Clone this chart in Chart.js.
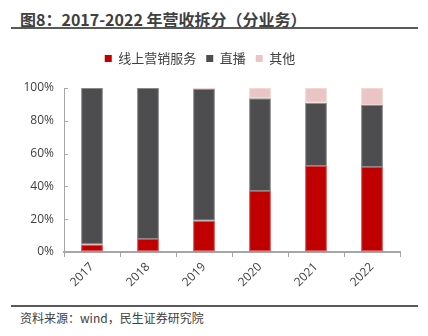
<!DOCTYPE html>
<html>
<head>
<meta charset="utf-8">
<script src="https://cdn.jsdelivr.net/npm/chart.js@4/dist/chart.umd.min.js"></script>
<style>
  html, body { margin: 0; padding: 0; background: #fff; }
  #wrap { position: relative; width: 428px; height: 336px; overflow: hidden; }
  #title {
    position: absolute; left: 20px; top: 7px;
    font: bold 16px "Noto Sans CJK SC", "Open Sans", sans-serif;
    color: #404040; white-space: nowrap;
  }
  .rule { position: absolute; left: 11px; width: 407px; height: 2px; background: #595959; }
  #source {
    position: absolute; left: 20px; top: 309px;
    font: 12px "Noto Sans CJK SC", sans-serif; color: #404040; white-space: nowrap;
  }
  #chartBox { position: absolute; left: 0; top: 28px; width: 428px; height: 274px; }
</style>
</head>
<body>
<div id="wrap">
  <div id="title">图8：2017-2022 年营收拆分（分业务）</div>
  <div class="rule" style="top:27px"></div>
  <div id="chartBox"><canvas id="c"></canvas></div>
  <div class="rule" style="top:305px"></div>
  <div id="source">资料来源：wind，民生证券研究院</div>
</div>
<script>
// --- data (share of revenue, %) ---
const years = ['2017', '2018', '2019', '2020', '2021', '2022'];
const onlineMarketing = [4.5, 8.0, 19.0, 37.2, 52.4, 51.8];
const liveStreaming = [95.5, 92.0, 80.4, 56.5, 38.6, 37.8];
const others = [0.0, 0.0, 0.6, 6.3, 9.0, 10.4];
const yTicks = [0, 20, 40, 60, 80, 100];

const COLORS = ['#C00000', '#4D4D4F', '#EBC4C4'];
const EDGES = ['#D44A4A', '#8A8A8A', '#F2D6D6'];

// small inward tick marks on the y axis
const yTickMarks = {
  id: 'yTickMarks',
  afterDraw(chart) {
    const y = chart.scales.y, ctx = chart.ctx;
    ctx.save();
    ctx.strokeStyle = '#A6A6A6';
    ctx.lineWidth = 1;
    yTicks.forEach(v => {
      const py = Math.round(y.getPixelForValue(v)) + 0.5;
      ctx.beginPath();
      ctx.moveTo(y.right, py);
      ctx.lineTo(y.right + 4, py);
      ctx.stroke();
    });
    ctx.restore();
  }
};

// extra gap under the legend without spreading the items apart
const legendGap = {
  id: 'legendGap',
  beforeLayout(chart) {
    const lg = chart.legend;
    if (lg && !lg._gapPatched) {
      const fit = lg.fit.bind(lg);
      lg.fit = function () { fit(); this.height += 13; };
      lg._gapPatched = true;
    }
  }
};

new Chart(document.getElementById('c'), {
  type: 'bar',
  data: {
    labels: years,
    datasets: [
      { label: '线上营销服务', data: onlineMarketing },
      { label: '直播', data: liveStreaming },
      { label: '其他', data: others }
    ].map((d, i) => Object.assign(d, {
      backgroundColor: COLORS[i],
      borderColor: EDGES[i],
      borderWidth: 1,
      borderSkipped: false,
      categoryPercentage: 0.78,
      barPercentage: 0.5
    }))
  },
  options: {
    responsive: true,
    maintainAspectRatio: false,
    animation: false,
    layout: { padding: { left: 0, right: 28, top: 14, bottom: 0 } },
    plugins: {
      legend: {
        position: 'top',
        labels: {
          boxWidth: 7, boxHeight: 7, padding: 10,
          color: '#404040',
          font: { size: 13, family: '"Noto Sans CJK SC", sans-serif' },
          generateLabels(chart) {
            return chart.data.datasets.map((ds, i) => ({
              text: ds.label, fillStyle: COLORS[i], strokeStyle: COLORS[i],
              lineWidth: 0, datasetIndex: i, fontColor: '#404040'
            }));
          }
        }
      },
      tooltip: { enabled: false }
    },
    scales: {
      x: {
        stacked: true,
        offset: true,
        afterFit(scale) { scale.height = 50; },
        grid: {
          offset: true, drawOnChartArea: false, drawTicks: true,
          tickLength: 5, color: '#A6A6A6'
        },
        border: { color: '#A6A6A6', width: 2 },
        ticks: {
          color: '#404040', maxRotation: 45, minRotation: 45,
          font: { size: 12, family: '"Open Sans", sans-serif' }
        }
      },
      y: {
        stacked: true,
        min: 0, max: 100,
        afterFit(scale) { scale.width = 64; },
        afterBuildTicks(scale) { scale.ticks = yTicks.map(v => ({ value: v })); },
        grid: { drawOnChartArea: false, drawTicks: false },
        border: { color: '#A6A6A6', width: 1 },
        ticks: {
          padding: 10, color: '#404040',
          font: { size: 12, family: '"Open Sans", sans-serif' },
          callback: v => v + '%'
        }
      }
    }
  },
  plugins: [yTickMarks, legendGap]
});
</script>
</body>
</html>
